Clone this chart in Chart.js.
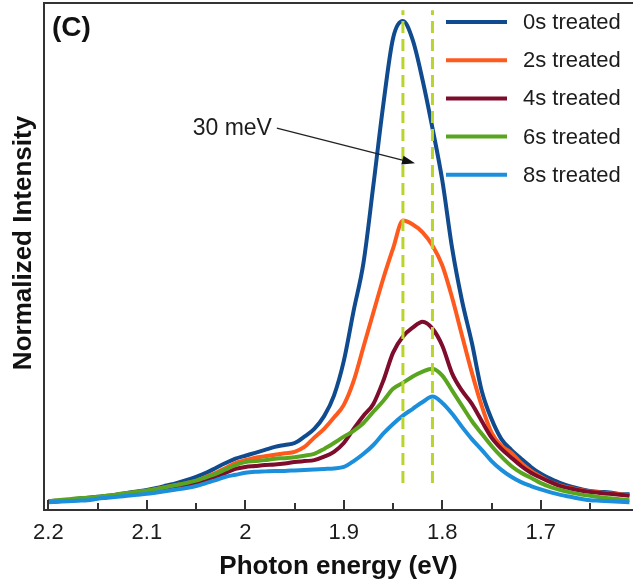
<!DOCTYPE html>
<html>
<head>
<meta charset="utf-8">
<script src="https://cdn.jsdelivr.net/npm/chart.js@4/dist/chart.umd.min.js"></script>
<style>
  html, body { margin: 0; padding: 0; background: #fff; }
  canvas { display: block; }
</style>
</head>
<body>
<canvas id="plChart" width="633" height="584"></canvas>
<script>
// photon energy (eV), shared by all spectra
const energies = [
  2.20, 2.19, 2.18, 2.17, 2.16, 2.15, 2.14, 2.13, 2.12, 2.11,
  2.10, 2.09, 2.08, 2.07, 2.06, 2.05, 2.04, 2.03, 2.02, 2.01,
  2.00, 1.99, 1.98, 1.97, 1.96, 1.95, 1.94, 1.93, 1.92, 1.91,
  1.90, 1.89, 1.88, 1.87, 1.86, 1.85, 1.84, 1.83, 1.82, 1.81,
  1.80, 1.79, 1.78, 1.77, 1.76, 1.75, 1.74, 1.73, 1.72, 1.71,
  1.70, 1.69, 1.68, 1.67, 1.66, 1.65, 1.64, 1.63, 1.62, 1.61
];

const labels = ['0s treated', '2s treated', '4s treated', '6s treated', '8s treated'];
const colors = ['#0f4b8e', '#ff5a1e', '#7e0c2c', '#5aa520', '#1b8fdb'];

const treated0s = [
  0.018, 0.019, 0.020, 0.023, 0.025, 0.027, 0.029, 0.032, 0.035, 0.038,
  0.041, 0.045, 0.050, 0.055, 0.061, 0.068, 0.076, 0.086, 0.096, 0.105,
  0.111, 0.117, 0.123, 0.129, 0.133, 0.137, 0.150, 0.166, 0.192, 0.234,
  0.305, 0.408, 0.506, 0.664, 0.828, 0.965, 1.000, 0.961, 0.879, 0.781,
  0.674, 0.535, 0.428, 0.342, 0.244, 0.186, 0.145, 0.123, 0.105, 0.088,
  0.074, 0.064, 0.055, 0.048, 0.043, 0.039, 0.037, 0.036, 0.033, 0.032
];
const treated2s = [
  0.018, 0.019, 0.020, 0.022, 0.024, 0.026, 0.028, 0.031, 0.034, 0.037,
  0.039, 0.043, 0.047, 0.051, 0.055, 0.059, 0.068, 0.076, 0.086, 0.096,
  0.102, 0.107, 0.110, 0.113, 0.116, 0.119, 0.129, 0.148, 0.166, 0.189,
  0.215, 0.264, 0.334, 0.404, 0.473, 0.535, 0.592, 0.584, 0.568, 0.541,
  0.500, 0.434, 0.357, 0.281, 0.213, 0.158, 0.131, 0.117, 0.096, 0.080,
  0.068, 0.057, 0.050, 0.045, 0.041, 0.038, 0.036, 0.034, 0.032, 0.030
];
const treated4s = [
  0.017, 0.018, 0.020, 0.022, 0.023, 0.025, 0.027, 0.029, 0.032, 0.035,
  0.037, 0.041, 0.044, 0.047, 0.051, 0.055, 0.061, 0.068, 0.076, 0.084,
  0.088, 0.090, 0.092, 0.093, 0.095, 0.098, 0.100, 0.102, 0.109, 0.119,
  0.137, 0.166, 0.193, 0.217, 0.264, 0.322, 0.355, 0.373, 0.385, 0.371,
  0.336, 0.279, 0.244, 0.217, 0.182, 0.148, 0.125, 0.107, 0.090, 0.076,
  0.066, 0.057, 0.049, 0.044, 0.040, 0.037, 0.035, 0.033, 0.031, 0.029
];
const treated6s = [
  0.018, 0.020, 0.022, 0.024, 0.025, 0.027, 0.029, 0.032, 0.035, 0.037,
  0.040, 0.043, 0.047, 0.051, 0.055, 0.060, 0.067, 0.074, 0.083, 0.092,
  0.098, 0.100, 0.102, 0.105, 0.106, 0.108, 0.111, 0.115, 0.125, 0.137,
  0.150, 0.162, 0.178, 0.201, 0.223, 0.248, 0.260, 0.273, 0.283, 0.289,
  0.275, 0.244, 0.213, 0.182, 0.156, 0.131, 0.109, 0.090, 0.076, 0.066,
  0.055, 0.047, 0.041, 0.036, 0.032, 0.029, 0.026, 0.024, 0.022, 0.020
];
const treated8s = [
  0.016, 0.017, 0.018, 0.019, 0.020, 0.023, 0.025, 0.027, 0.029, 0.031,
  0.033, 0.036, 0.039, 0.042, 0.045, 0.049, 0.055, 0.061, 0.068, 0.072,
  0.076, 0.078, 0.079, 0.080, 0.080, 0.081, 0.082, 0.083, 0.084, 0.085,
  0.088, 0.100, 0.115, 0.133, 0.156, 0.176, 0.193, 0.207, 0.221, 0.232,
  0.219, 0.197, 0.170, 0.145, 0.123, 0.100, 0.082, 0.068, 0.057, 0.049,
  0.042, 0.036, 0.031, 0.027, 0.023, 0.020, 0.019, 0.018, 0.017, 0.016
];
const spectra = [treated0s, treated2s, treated4s, treated6s, treated8s];

// the two dashed markers (eV), 30 meV apart
const markerEnergies = [1.84, 1.81];
const markerRange = [0.055, 1.022];

const annotationText = '30 meV';
const panelLabel = '(C)';

const FONT = '"Liberation Sans", Arial, Helvetica, sans-serif';
const INK = '#1c1c1c';

const curveSets = spectra.map((vals, i) => ({
  label: labels[i],
  data: energies.map((e, j) => ({ x: e, y: vals[j] })),
  borderColor: colors[i],
  backgroundColor: colors[i],
  borderWidth: 4,
  pointRadius: 0,
  cubicInterpolationMode: 'monotone',
  order: spectra.length - i + 1
}));

const markerSets = markerEnergies.map(e => ({
  label: 'marker',
  data: markerRange.map(v => ({ x: e, y: v })),
  borderColor: '#b9d52a',
  borderWidth: 3,
  borderDash: [12, 6],
  pointRadius: 0,
  order: 0
}));

// frame top line, inward ticks, legend, labels and arrow
const decorations = {
  id: 'decorations',
  afterDatasetsDraw(chart) {
    const { ctx, chartArea: area, scales: { x, y } } = chart;
    ctx.save();

    // top frame
    ctx.strokeStyle = '#333';
    ctx.lineWidth = 2;
    ctx.beginPath();
    ctx.moveTo(area.left - 1, area.top);
    ctx.lineTo(area.right, area.top);
    ctx.stroke();

    // inward ticks on the energy axis
    x.ticks.forEach(t => {
      const px = Math.round(x.getPixelForValue(t.value));
      const major = Math.abs(t.value * 10 - Math.round(t.value * 10)) < 1e-6;
      ctx.beginPath();
      ctx.moveTo(px, area.bottom);
      ctx.lineTo(px, area.bottom - (major ? 10 : 7));
      ctx.stroke();
    });

    // legend
    ctx.font = '22px ' + FONT;
    ctx.textBaseline = 'middle';
    ctx.textAlign = 'left';
    labels.forEach((lab, i) => {
      const ry = area.top + 19 + i * 38.2;
      ctx.strokeStyle = colors[i];
      ctx.lineWidth = 4;
      ctx.beginPath();
      ctx.moveTo(area.right - 187, ry);
      ctx.lineTo(area.right - 126, ry);
      ctx.stroke();
      ctx.fillStyle = INK;
      ctx.fillText(lab, area.right - 110, ry + 1);
    });

    // panel label
    ctx.font = 'bold 28px ' + FONT;
    ctx.fillStyle = '#111';
    ctx.fillText(panelLabel, area.left + 8, area.top + 25);

    // 30 meV annotation with arrow
    const tx = x.getPixelForValue(1.973), ty = y.getPixelForValue(0.781);
    ctx.font = '23px ' + FONT;
    ctx.textAlign = 'right';
    ctx.fillStyle = INK;
    ctx.fillText(annotationText, tx, ty);
    const ax = x.getPixelForValue(1.968), ay = ty;
    const bx = x.getPixelForValue(1.8277), by = y.getPixelForValue(0.709);
    const ang = Math.atan2(by - ay, bx - ax);
    ctx.strokeStyle = '#222';
    ctx.lineWidth = 1.3;
    ctx.beginPath();
    ctx.moveTo(ax, ay);
    ctx.lineTo(bx - 10 * Math.cos(ang), by - 10 * Math.sin(ang));
    ctx.stroke();
    ctx.fillStyle = '#111';
    ctx.beginPath();
    ctx.moveTo(bx, by);
    ctx.lineTo(bx - 13 * Math.cos(ang) + 4.5 * Math.sin(ang), by - 13 * Math.sin(ang) - 4.5 * Math.cos(ang));
    ctx.lineTo(bx - 13 * Math.cos(ang) - 4.5 * Math.sin(ang), by - 13 * Math.sin(ang) + 4.5 * Math.cos(ang));
    ctx.closePath();
    ctx.fill();

    // y axis title
    ctx.translate(24, 243);
    ctx.rotate(-Math.PI / 2);
    ctx.font = 'bold 26px ' + FONT;
    ctx.textAlign = 'center';
    ctx.fillStyle = '#111';
    ctx.fillText('Normalized Intensity', 0, 0);

    ctx.restore();
  }
};

const fmtTick = v => {
  if (Math.abs(v * 10 - Math.round(v * 10)) > 1e-6) return '';
  return String(+v.toFixed(1));
};

new Chart(document.getElementById('plChart'), {
  type: 'line',
  data: { datasets: [...curveSets, ...markerSets] },
  options: {
    responsive: false,
    animation: false,
    devicePixelRatio: 1,
    layout: { padding: { left: 44, top: 3, right: 0, bottom: 2 } },
    plugins: {
      legend: { display: false },
      tooltip: { enabled: false }
    },
    scales: {
      x: {
        type: 'linear',
        reverse: true,
        min: 1.6064,
        max: 2.2044,
        grid: { display: false, drawTicks: false },
        border: { display: true, color: '#333', width: 2 },
        ticks: {
          stepSize: 0.05,
          includeBounds: false,
          autoSkip: false,
          maxRotation: 0,
          padding: 12,
          color: INK,
          font: { family: FONT, size: 22, lineHeight: 1 },
          callback: fmtTick
        },
        title: {
          display: true,
          text: 'Photon energy (eV)',
          color: '#111',
          font: { family: FONT, size: 26, weight: 'bold', lineHeight: 1 },
          padding: { top: -2.5, bottom: 2.5 }
        }
      },
      y: {
        min: 0,
        max: 1.037,
        grid: { display: false, drawTicks: false },
        border: { display: true, color: '#333', width: 2 },
        ticks: { display: false }
      }
    }
  },
  plugins: [decorations]
});
</script>
</body>
</html>
